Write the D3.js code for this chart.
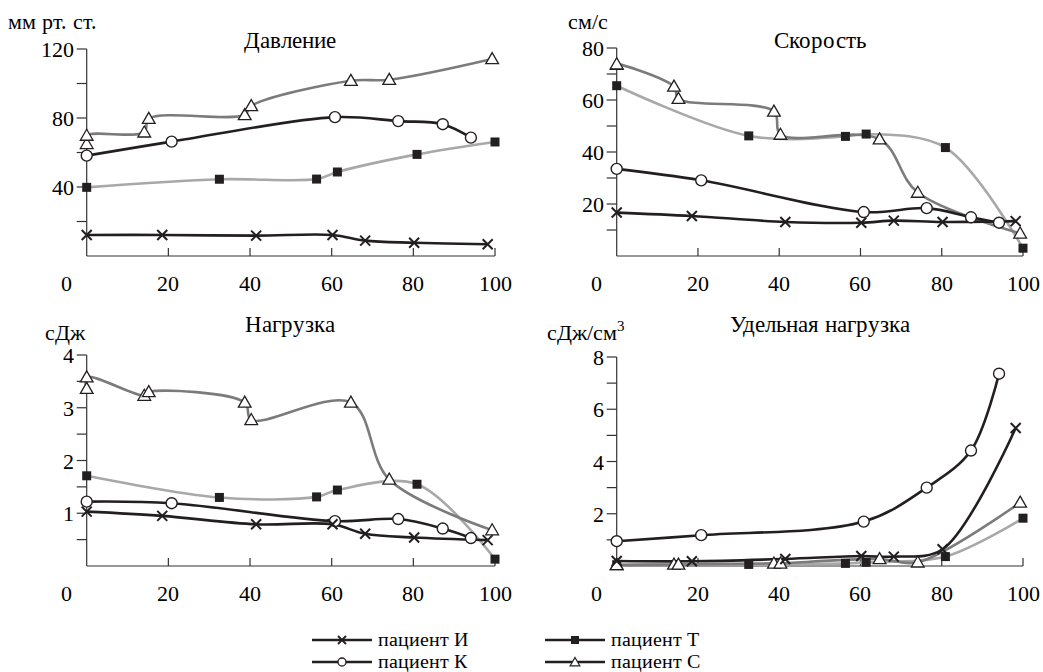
<!DOCTYPE html>
<html>
<head>
<meta charset="utf-8">
<script src="https://cdn.jsdelivr.net/npm/d3@7"></script>
<style>
  @font-face { font-family: 'ChartSerif'; src: local('Liberation Serif'), local('LiberationSerif'), local('Times New Roman'); }
  #s, #s text, #s tspan { font-family: 'ChartSerif', 'Liberation Serif', 'Times New Roman', serif !important; }
</style>
</head>
<body style="margin:0">
<svg id="s" width="1043" height="672" font-family="Liberation Serif"></svg>
<script>
// x positions (% of course) for each patient, shared by all panels
var xI = [0, 18.5, 41.5, 60.2, 68.2, 80.2, 98.2];
var xK = [0, 20.8, 60.8, 76.3, 87.2, 94.1];
var xT = [0, 32.5, 56.3, 61.4, 80.9, 100];
var xC = [0, 0, 14.1, 15.2, 38.7, 40.3, 64.7, 74.1, 99.3];

// Давление, мм рт. ст.
var pressI = [12.2, 12.2, 11.8, 12.2, 8.9, 7.7, 6.8];
var pressK = [58.2, 66.3, 80.5, 78.2, 76.4, 68.6];
var pressT = [39.8, 44.5, 44.6, 48.7, 58.9, 66.1];
var pressC = [65, 69.8, 71.7, 79.6, 81.8, 87, 101.6, 102.2, 114.2];

// Скорость, см/с
var speedI = [16.7, 15.4, 13.1, 12.8, 13.6, 13.1, 13.4];
var speedK = [33.5, 29.1, 16.9, 18.4, 14.9, 12.8];
var speedT = [65.5, 46.2, 46.0, 46.9, 41.7, 3.0];
var speedC = [73.6, 73.8, 65.2, 60.5, 55.6, 46.7, 44.9, 24.4, 8.7];

// Нагрузка, сДж
var loadI = [1.03, 0.95, 0.79, 0.79, 0.61, 0.54, 0.49];
var loadK = [1.22, 1.19, 0.85, 0.89, 0.71, 0.53];
var loadT = [1.71, 1.30, 1.31, 1.44, 1.55, 0.13];
var loadC = [3.36, 3.58, 3.23, 3.30, 3.10, 2.77, 3.10, 1.64, 0.68];

// Удельная нагрузка, сДж/см3
var specI = [0.19, 0.18, 0.27, 0.38, 0.36, 0.64, 5.28];
var specK = [0.95, 1.18, 1.70, 3.0, 4.42, 7.36];
var specT = [0.05, 0.06, 0.10, 0.14, 0.36, 1.83];
var specC = [0.04, 0.04, 0.06, 0.06, 0.10, 0.10, 0.27, 0.14, 2.43];

var xTicks = [0, 20, 40, 60, 80, 100];

var panels = [
  {title: 'Давление', unit: 'мм рт. ст.', max: 120, major: [40, 80, 120], minor: [20, 60, 100],
   left: 86.7, right: 495, top: 49, bottom: 256, titleX: 290, titleY: 48, unitX: 8, unitY: 29,
   series: [pressT, pressC, pressK, pressI]},
  {title: 'Скорость', unit: 'см/с', max: 80, major: [20, 40, 60, 80], minor: [10, 30, 50, 70],
   left: 616.7, right: 1023, top: 48, bottom: 256, titleX: 820, titleY: 48, unitX: 568, unitY: 29,
   series: [speedT, speedC, speedK, speedI]},
  {title: 'Нагрузка', unit: 'сДж', max: 4, major: [1, 2, 3, 4], minor: [0.5, 1.5, 2.5, 3.5],
   left: 86.7, right: 495, top: 355, bottom: 566, titleX: 290, titleY: 332, unitX: 45, unitY: 340,
   series: [loadT, loadC, loadK, loadI]},
  {title: 'Удельная нагрузка', unit: 'сДж/см', sup: '3', max: 8, major: [2, 4, 6, 8], minor: [1, 3, 5, 7],
   left: 616.7, right: 1023, top: 357, bottom: 566, titleX: 820, titleY: 332, unitX: 547, unitY: 340,
   series: [specT, specC, specK, specI]}
];

// order matches panel.series: Т, С, К, И
var patients = [
  {name: 'пациент Т', xs: xT, color: '#a8a8a8', marker: 'square'},
  {name: 'пациент С', xs: xC, color: '#7b7b7b', marker: 'triangle'},
  {name: 'пациент К', xs: xK, color: '#231f20', marker: 'circle'},
  {name: 'пациент И', xs: xI, color: '#231f20', marker: 'cross'}
];

var SERIF = "'ChartSerif', 'Liberation Serif', 'Times New Roman', serif";
var svg = d3.select('#s');
var marks = svg.append('g');

function label(x, y, size, txt) {
  return svg.append('text').attr('x', x).attr('y', y)
    .attr('font-family', 'Liberation Serif').attr('font-size', size)
    .style('font-family', SERIF, 'important')
    .text(txt);
}

function drawMarker(g, type, x, y) {
  if (type == 'square') {
    g.append('rect').attr('x', x - 4.5).attr('y', y - 4.5).attr('width', 9).attr('height', 9)
      .attr('fill', '#231f20');
  } else if (type == 'circle') {
    g.append('circle').attr('cx', x).attr('cy', y).attr('r', 5.5)
      .attr('fill', '#fff').attr('stroke', '#231f20').attr('stroke-width', 1.4);
  } else if (type == 'triangle') {
    g.append('path').attr('d', d3.symbol().type(d3.symbolTriangle).size(70)())
      .attr('transform', 'translate(' + x + ',' + (y + 1) + ')')
      .attr('fill', '#fff').attr('stroke', '#231f20').attr('stroke-width', 1.3);
  } else {
    g.append('path').attr('d', 'M-5,-5L5,5M-5,5L5,-5')
      .attr('transform', 'translate(' + x + ',' + y + ')')
      .attr('stroke', '#231f20').attr('stroke-width', 2);
  }
}

panels.forEach(function(p) {
  var x = d3.scaleLinear().domain([0, 100]).range([p.left, p.right]);
  var y = d3.scaleLinear().domain([0, p.max]).range([p.bottom, p.top]);
  var g = marks.append('g');

  // axes
  g.append('line').attr('x1', p.left).attr('x2', p.left).attr('y1', p.bottom).attr('y2', p.top)
    .attr('stroke', '#333').attr('stroke-width', 1.2);
  g.append('line').attr('x1', p.left).attr('x2', p.right).attr('y1', p.bottom).attr('y2', p.bottom)
    .attr('stroke', '#333').attr('stroke-width', 1.2);

  p.major.concat(p.minor).forEach(function(v) {
    g.append('line').attr('x1', p.left - 10).attr('x2', p.left).attr('y1', y(v)).attr('y2', y(v))
      .attr('stroke', '#333').attr('stroke-width', 1.2);
  });
  p.major.forEach(function(v) {
    label(p.left - 13, y(v) + 8, 22, String(v)).attr('text-anchor', 'end');
  });

  xTicks.forEach(function(v) {
    if (v > 0) {
      g.append('line').attr('x1', x(v)).attr('x2', x(v)).attr('y1', p.bottom).attr('y2', p.bottom - 8)
        .attr('stroke', '#333').attr('stroke-width', 1.2);
    }
    label(v == 0 ? x(v) - 20 : x(v), p.bottom + 35, 22, String(v)).attr('text-anchor', 'middle');
  });

  label(p.titleX, p.titleY, 23, p.title).attr('text-anchor', 'middle');
  var u = label(p.unitX, p.unitY, 22, p.unit);
  if (p.sup) {
    u.append('tspan').attr('dy', -9).attr('font-size', 15).text(p.sup);
  }

  var line = d3.line()
    .x(function(d) { return x(d[0]); })
    .y(function(d) { return y(d[1]); })
    .curve(d3.curveCatmullRom.alpha(0.5));

  patients.forEach(function(pt, i) {
    var pts = pt.xs.map(function(xv, j) { return [xv, p.series[i][j]]; });
    g.append('path').datum(pts).attr('d', line)
      .attr('fill', 'none').attr('stroke', pt.color).attr('stroke-width', 2.6);
  });
  patients.forEach(function(pt, i) {
    pt.xs.forEach(function(xv, j) {
      drawMarker(g, pt.marker, x(xv), y(p.series[i][j]));
    });
  });
});

// legend
var legend = [
  {name: 'пациент И', marker: 'cross', lx: 312, ly: 640},
  {name: 'пациент К', marker: 'circle', lx: 312, ly: 662},
  {name: 'пациент Т', marker: 'square', lx: 545, ly: 640},
  {name: 'пациент С', marker: 'triangle', lx: 545, ly: 662}
];
legend.forEach(function(d) {
  var g = marks.append('g');
  g.append('line').attr('x1', d.lx).attr('x2', d.lx + 60).attr('y1', d.ly).attr('y2', d.ly)
    .attr('stroke', '#231f20').attr('stroke-width', 2.6);
  if (d.marker == 'square') {
    g.append('rect').attr('x', d.lx + 26).attr('y', d.ly - 4).attr('width', 8).attr('height', 8).attr('fill', '#231f20');
  } else if (d.marker == 'circle') {
    g.append('circle').attr('cx', d.lx + 30).attr('cy', d.ly).attr('r', 4)
      .attr('fill', '#fff').attr('stroke', '#231f20').attr('stroke-width', 1.3);
  } else if (d.marker == 'triangle') {
    g.append('path').attr('d', d3.symbol().type(d3.symbolTriangle).size(40)())
      .attr('transform', 'translate(' + (d.lx + 30) + ',' + (d.ly + 1) + ')')
      .attr('fill', '#fff').attr('stroke', '#231f20').attr('stroke-width', 1.2);
  } else {
    g.append('path').attr('d', 'M-4,-4L4,4M-4,4L4,-4')
      .attr('transform', 'translate(' + (d.lx + 30) + ',' + d.ly + ')')
      .attr('stroke', '#231f20').attr('stroke-width', 1.8);
  }
  label(d.lx + 66, d.ly + 6, 20, d.name);
});
</script>
</body>
</html>
